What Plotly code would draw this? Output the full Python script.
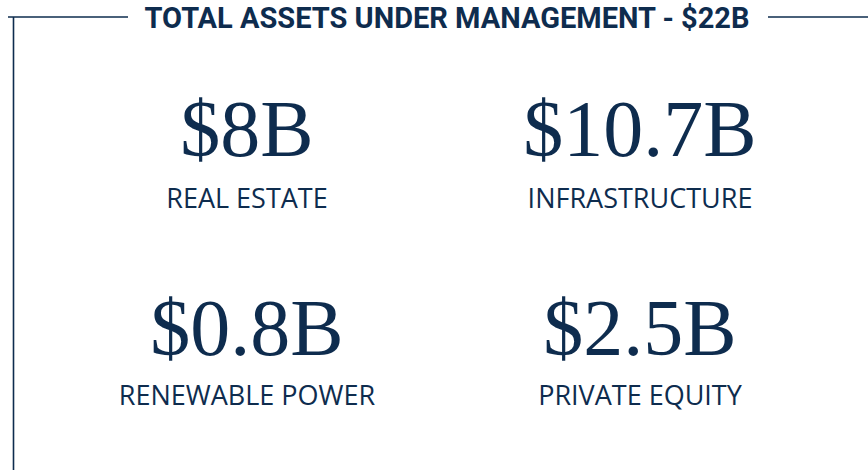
import plotly.graph_objects as go

title = "TOTAL ASSETS UNDER MANAGEMENT - $22B"
categories = ["REAL ESTATE", "INFRASTRUCTURE", "RENEWABLE POWER", "PRIVATE EQUITY"]
values_bn = [8, 10.7, 0.8, 2.5]
value_labels = ["$8B", "$10.7B", "$0.8B", "$2.5B"]

NAVY = "#0e2c4e"
W, H = 868, 470
col_x = [247, 640, 247, 640]
num_y = [136, 136, 335, 335]
lab_y = [201, 201, 398, 398]

fig = go.Figure()
fig.add_trace(go.Scatter(
    x=col_x, y=num_y, mode="text", text=value_labels,
    textfont=dict(family="Liberation Serif, DejaVu Serif, serif", size=80, color=NAVY),
    hoverinfo="skip", showlegend=False))
fig.add_trace(go.Scatter(
    x=col_x, y=lab_y, mode="text", text=categories,
    textfont=dict(family="Open Sans, sans-serif", size=27, color=NAVY),
    hoverinfo="skip", showlegend=False))

line = dict(color=NAVY, width=1.6)
fig.add_shape(type="line", x0=8, x1=128, y0=17, y1=17, line=line, xref="x", yref="y")
fig.add_shape(type="line", x0=768, x1=W + 10, y0=17, y1=17, line=line, xref="x", yref="y")
fig.add_shape(type="line", x0=13.5, x1=13.5, y0=17, y1=H + 10, line=line, xref="x", yref="y")

fig.add_trace(go.Scatter(
    x=[447], y=[21], mode="text", text=["<b>" + title + "</b>"],
    textfont=dict(family="Roboto, sans-serif", size=29, color=NAVY),
    hoverinfo="skip", showlegend=False, cliponaxis=False))

fig.update_xaxes(range=[0, W], visible=False, fixedrange=True)
fig.update_yaxes(range=[H, 0], visible=False, fixedrange=True)
fig.update_layout(width=W, height=H, margin=dict(l=0, r=0, t=0, b=0),
                  plot_bgcolor="white", paper_bgcolor="white", hovermode=False)
fig.write_html("out.html", config={"displayModeBar": False, "staticPlot": True},
               post_script="document.body.style.margin='0';document.body.style.overflow='hidden';")
